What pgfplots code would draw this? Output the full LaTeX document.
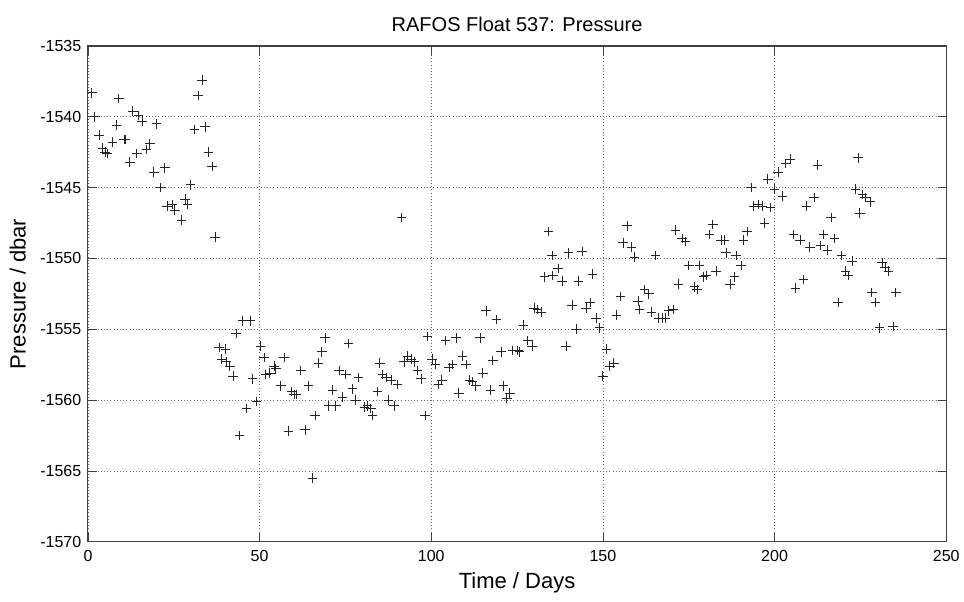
\documentclass[border=0pt]{standalone}
\usepackage{fontspec}
\setmainfont{Liberation Sans}
\usepackage{pgfplots}
\pgfplotsset{compat=1.18}

\begin{document}
\begin{tikzpicture}
\begin{axis}[
    name=ax,
    scale only axis,
    width=644pt,
    height=372pt,
    xmin=0, xmax=250,
    ymin=-1570, ymax=-1535,
    xtick={0,50,100,150,200,250},
    ytick={-1570,-1565,-1560,-1555,-1550,-1545,-1540,-1535},
    /pgf/number format/assume math mode=true,
    /pgf/number format/1000 sep={},
    ticklabel style={font=\fontsize{12}{14}\selectfont},
    xticklabel style={yshift=-3pt},
    yticklabel style={xshift=-1.5pt},
    tick align=inside,
    major tick length=6.5pt,
    grid=major,
    major grid style={dotted, black!60, line width=0.6pt},
    axis line style={black!75, line width=0.8pt},
    every tick/.style={black!75, line width=0.6pt},
    title={RAFOS Float 537: Pressure},
    title style={font=\fontsize{15}{17}\selectfont, yshift=1pt},
    xlabel={Time / Days},
    ylabel={Pressure / dbar},
    label style={font=\fontsize{16.5}{19}\selectfont},
    xlabel style={yshift=-1pt},
    ylabel style={yshift=4pt},
]
\addplot[only marks, mark=+, mark size=3.6pt, black!85, line width=0.65pt] table {
x y
1.1 -1538.3
2.0 -1540.0
3.2 -1541.3
4.2 -1542.2
5.0 -1542.5
5.6 -1542.6
7.1 -1541.8
8.3 -1540.6
9.0 -1538.7
10.5 -1541.6
10.8 -1541.6
12.2 -1543.2
13.1 -1539.6
14.2 -1542.6
14.7 -1539.9
15.8 -1540.3
17.1 -1542.3
18.0 -1541.9
19.2 -1543.9
20.0 -1540.5
21.2 -1545.0
22.4 -1543.6
23.1 -1546.3
24.6 -1546.2
25.3 -1546.6
27.2 -1547.3
28.3 -1545.8
29.0 -1546.2
29.9 -1544.8
31.0 -1540.9
32.1 -1538.5
33.3 -1537.4
34.1 -1540.7
35.1 -1542.5
36.2 -1543.5
37.0 -1548.5
38.2 -1556.3
39.0 -1557.1
40.1 -1556.4
40.4 -1557.3
41.3 -1557.6
42.3 -1558.3
43.2 -1555.3
44.2 -1562.5
45.0 -1554.4
46.2 -1560.6
47.4 -1554.4
47.9 -1558.5
49.1 -1560.1
50.3 -1556.2
51.3 -1557.0
51.8 -1558.2
53.0 -1558.1
54.2 -1557.6
54.7 -1557.8
56.2 -1559.0
57.1 -1557.0
58.4 -1562.2
59.4 -1559.4
60.1 -1559.6
60.6 -1559.6
62.0 -1557.9
63.3 -1562.1
64.2 -1559.0
65.4 -1565.5
66.2 -1561.1
67.1 -1557.4
68.1 -1556.6
69.1 -1555.6
70.1 -1560.4
71.2 -1559.3
72.2 -1560.4
73.2 -1557.9
74.1 -1559.8
75.1 -1558.2
75.9 -1556.0
77.1 -1559.2
78.0 -1560.0
78.8 -1558.4
80.5 -1560.5
81.4 -1560.4
82.4 -1560.6
82.9 -1561.1
84.3 -1559.4
85.0 -1557.4
85.8 -1558.2
86.8 -1558.4
87.6 -1560.0
88.3 -1558.6
89.2 -1560.4
90.2 -1558.9
91.3 -1547.1
92.1 -1557.3
93.1 -1556.9
94.1 -1557.1
95.0 -1557.3
96.0 -1557.9
97.0 -1558.5
98.2 -1561.1
98.9 -1555.5
100.2 -1557.1
101.2 -1557.5
102.1 -1558.9
103.1 -1558.6
104.1 -1555.8
105.2 -1557.7
106.2 -1557.5
107.2 -1555.6
108.0 -1559.5
109.1 -1556.9
110.1 -1557.5
111.1 -1558.6
112.0 -1558.7
113.0 -1559.0
114.2 -1555.6
115.0 -1558.1
116.0 -1553.7
117.2 -1559.3
117.9 -1557.2
119.0 -1554.3
120.3 -1556.6
121.0 -1559.0
122.0 -1559.9
122.9 -1559.5
123.7 -1556.5
125.2 -1556.5
125.7 -1556.6
126.9 -1554.7
128.1 -1555.8
129.4 -1556.2
130.0 -1553.5
131.0 -1553.6
132.0 -1553.8
133.0 -1551.3
134.2 -1548.1
135.2 -1549.8
135.4 -1551.2
136.9 -1550.7
138.1 -1551.6
139.3 -1556.2
140.0 -1549.6
141.0 -1553.3
142.2 -1555.0
142.9 -1551.6
143.9 -1549.5
145.1 -1553.5
146.3 -1553.1
147.0 -1551.1
148.0 -1554.2
149.0 -1554.9
150.0 -1558.3
151.0 -1556.4
152.0 -1557.6
153.2 -1557.4
154.0 -1554.0
155.1 -1552.7
155.9 -1548.9
157.0 -1547.7
158.3 -1549.2
159.2 -1549.9
160.2 -1553.0
160.6 -1553.6
162.1 -1552.2
163.4 -1552.5
164.1 -1553.8
165.3 -1549.8
166.3 -1554.2
167.3 -1554.2
168.2 -1554.2
169.2 -1553.7
170.4 -1553.6
171.1 -1548.0
172.0 -1551.8
173.1 -1548.6
174.1 -1548.8
175.0 -1550.5
176.7 -1552.0
177.4 -1552.2
178.1 -1550.5
179.3 -1551.3
180.1 -1551.2
181.0 -1548.3
182.0 -1547.6
183.0 -1550.9
184.4 -1548.7
185.3 -1548.7
185.9 -1549.6
187.1 -1551.8
188.3 -1551.3
188.8 -1549.8
190.3 -1550.5
191.0 -1548.7
192.0 -1548.1
193.2 -1545.0
193.9 -1546.3
195.2 -1546.2
196.4 -1546.3
197.1 -1547.5
198.0 -1544.4
198.8 -1546.4
200.0 -1545.1
201.0 -1543.9
202.3 -1545.6
203.2 -1543.3
204.5 -1543.0
205.5 -1548.3
206.1 -1552.1
207.4 -1548.7
208.4 -1551.5
209.3 -1546.3
210.3 -1549.2
211.5 -1545.7
212.5 -1543.4
213.4 -1549.1
214.2 -1548.3
215.4 -1549.4
216.5 -1547.1
217.5 -1548.6
218.5 -1553.1
219.5 -1549.8
220.7 -1550.9
221.4 -1551.2
222.6 -1550.2
223.6 -1545.1
224.3 -1542.9
224.8 -1546.8
225.6 -1545.5
226.4 -1545.7
227.8 -1546.0
228.3 -1552.4
229.4 -1553.1
230.6 -1554.9
231.3 -1550.3
232.2 -1550.6
233.2 -1550.9
234.5 -1554.8
235.3 -1552.4
};
\end{axis}
% fix the page to the reference margins round the axis
\path ([xshift=-66pt,yshift=-45pt]ax.south west) rectangle ([xshift=12.75pt,yshift=34.5pt]ax.north east);
\end{tikzpicture}
\end{document}
